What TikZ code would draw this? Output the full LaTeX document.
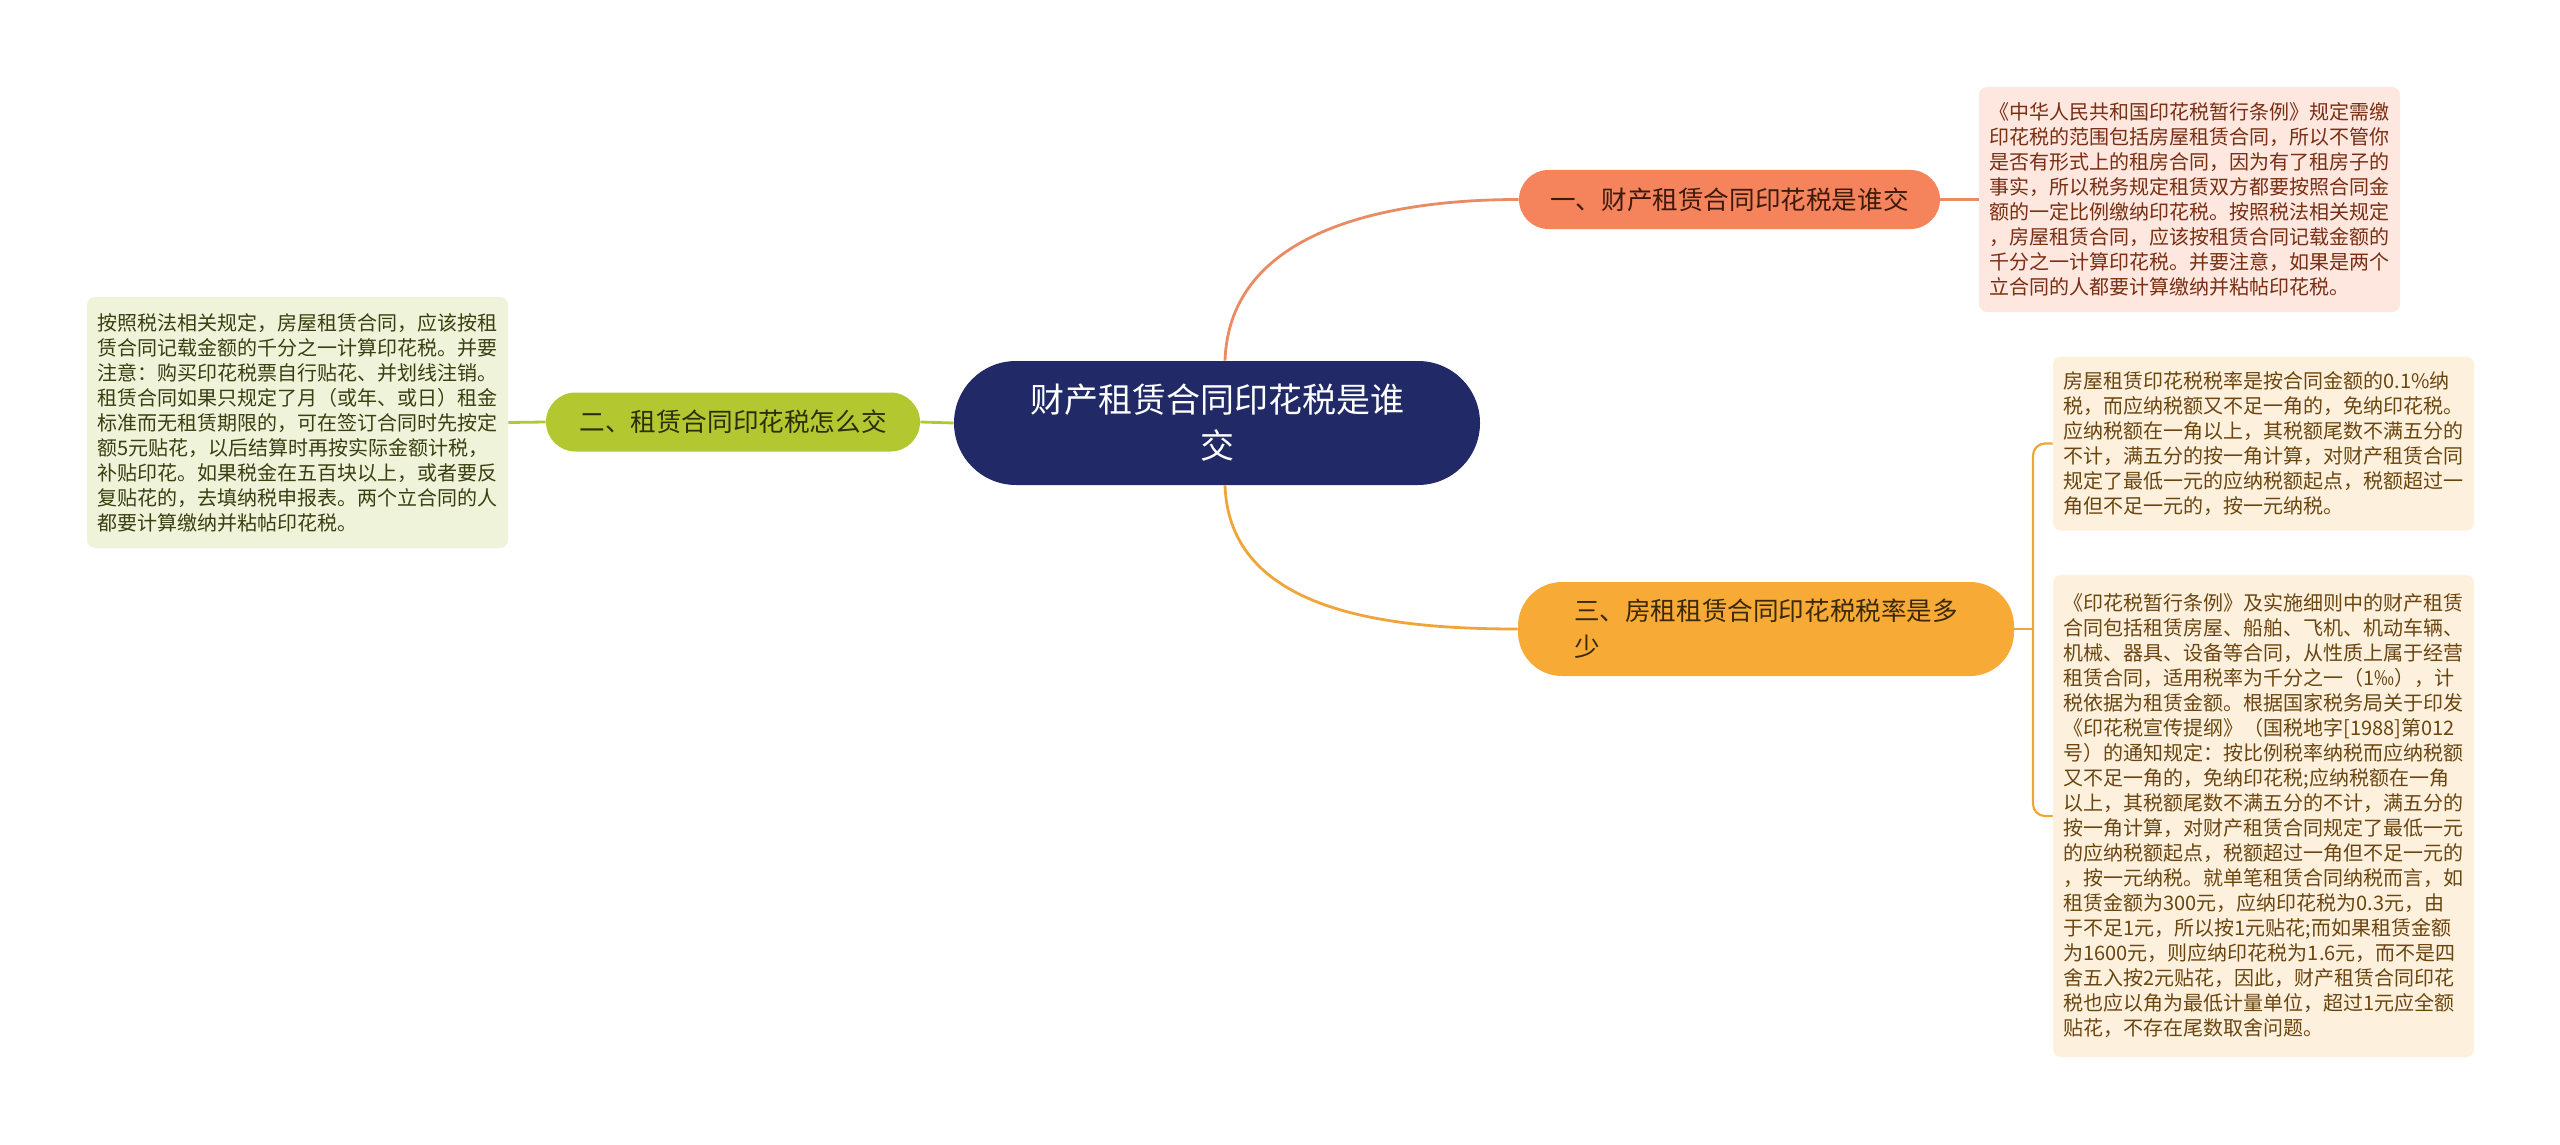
\documentclass[tikz,border=0pt]{standalone}
\usepackage{fontspec}
\newfontfamily\cjk{Noto Sans CJK SC}
\definecolor{rootblue}{HTML}{212A66}
\definecolor{coral}{HTML}{F5845D}
\definecolor{coralline}{HTML}{E98B63}
\definecolor{lime}{HTML}{B3C830}
\definecolor{amber}{HTML}{F8AA36}
\definecolor{amberline}{HTML}{F0A53A}
\definecolor{pinkleaf}{HTML}{FDE7DF}
\definecolor{greenleaf}{HTML}{EFF3DA}
\definecolor{sandleaf}{HTML}{FDF1DD}
\tikzset{
  rootnode/.style={fill=rootblue,text=white,rounded corners=31pt,inner sep=0pt,
    minimum width=263pt,minimum height=62pt,align=center,
    font=\cjk\fontsize{17}{23}\selectfont},
  topic/.style={rounded corners=14.75pt,inner sep=0pt,minimum height=29.5pt,
    align=left,font=\cjk\fontsize{12.8}{18}\selectfont},
  leaf/.style={rounded corners=4pt,inner sep=0pt,minimum width=210.5pt,
    align=left,font=\cjk\fontsize{10}{12.5}\selectfont},
  link/.style={line width=1.4pt}
}
\begin{document}
\begin{tikzpicture}[x=0.5pt,y=-0.5pt]
\useasboundingbox[fill=white] (0,0) rectangle (2560,1145);

% centre
\node[rootnode] (root) at (1217,423) {财产租赁合同印花税是谁\\交};

% three topics
\node[topic,fill=coral,text={rgb,255:red,61;green,26;blue,12},minimum width=210.5pt] (t1) at (1729.5,199.5) {一、财产租赁合同印花税是谁交};
\node[topic,fill=lime,text={rgb,255:red,43;green,46;blue,10},minimum width=187pt] (t2) at (733,422) {二、租赁合同印花税怎么交};
\node[topic,fill=amber,text={rgb,255:red,59;green,42;blue,10},minimum width=248pt,minimum height=47pt,rounded corners=22pt] (t3) at (1766,629) {三、房租租赁合同印花税税率是多\\少};

% notes
\node[leaf,fill=pinkleaf,text={rgb,255:red,122;green,46;blue,18},minimum height=112.5pt] (n1) at (2189.5,199.5) {%
《中华人民共和国印花税暂行条例》规定需缴\\
印花税的范围包括房屋租赁合同，所以不管你\\
是否有形式上的租房合同，因为有了租房子的\\
事实，所以税务规定租赁双方都要按照合同金\\
额的一定比例缴纳印花税。按照税法相关规定\\
，房屋租赁合同，应该按租赁合同记载金额的\\
千分之一计算印花税。并要注意，如果是两个\\
立合同的人都要计算缴纳并粘帖印花税。};

\node[leaf,fill=greenleaf,text={rgb,255:red,58;green,63;blue,16},minimum height=125.5pt] (n2) at (297.5,422.5) {%
按照税法相关规定，房屋租赁合同，应该按租\\
赁合同记载金额的千分之一计算印花税。并要\\
注意：购买印花税票自行贴花、并划线注销。\\
租赁合同如果只规定了月（或年、或日）租金\\
标准而无租赁期限的，可在签订合同时先按定\\
额5元贴花，以后结算时再按实际金额计税，\\
补贴印花。如果税金在五百块以上，或者要反\\
复贴花的，去填纳税申报表。两个立合同的人\\
都要计算缴纳并粘帖印花税。};

\node[leaf,fill=sandleaf,text={rgb,255:red,107;green,69;blue,16},minimum height=87pt] (n3a) at (2263.5,443.5) {%
房屋租赁印花税税率是按合同金额的0.1\%纳\\
税，而应纳税额又不足一角的，免纳印花税。\\
应纳税额在一角以上，其税额尾数不满五分的\\
不计，满五分的按一角计算，对财产租赁合同\\
规定了最低一元的应纳税额起点，税额超过一\\
角但不足一元的，按一元纳税。};

\node[leaf,fill=sandleaf,text={rgb,255:red,107;green,69;blue,16},minimum height=241pt] (n3b) at (2263.5,816) {%
《印花税暂行条例》及实施细则中的财产租赁\\
合同包括租赁房屋、船舶、飞机、机动车辆、\\
机械、器具、设备等合同，从性质上属于经营\\
租赁合同，适用税率为千分之一（1‰），计\\
税依据为租赁金额。根据国家税务局关于印发\\
《印花税宣传提纲》（国税地字[1988]第012\\
号）的通知规定：按比例税率纳税而应纳税额\\
又不足一角的，免纳印花税;应纳税额在一角\\
以上，其税额尾数不满五分的不计，满五分的\\
按一角计算，对财产租赁合同规定了最低一元\\
的应纳税额起点，税额超过一角但不足一元的\\
，按一元纳税。就单笔租赁合同纳税而言，如\\
租赁金额为300元，应纳印花税为0.3元，由\\
于不足1元，所以按1元贴花;而如果租赁金额\\
为1600元，则应纳印花税为1.6元，而不是四\\
舍五入按2元贴花，因此，财产租赁合同印花\\
税也应以角为最低计量单位，超过1元应全额\\
贴花，不存在尾数取舍问题。};

\coordinate (j3) at (2033,629);

% links
\draw[link,coralline] ([xshift=4pt]root.north) to[out=88,in=180] (t1.west);
\draw[link,lime] (root.west) -- (t2.east);
\draw[link,amberline] ([xshift=4pt]root.south) to[out=-88,in=180] (t3.west);
\draw[link,coralline] (t1.east) -- (n1.west);
\draw[link,lime] (t2.west) -- (n2.east);
\draw[link,amberline] (t3.east) -- (j3);
\draw[line width=1.1pt,amberline,rounded corners=6pt] (n3a.west) -| (j3) |- (n3b.west);
\end{tikzpicture}
\end{document}
